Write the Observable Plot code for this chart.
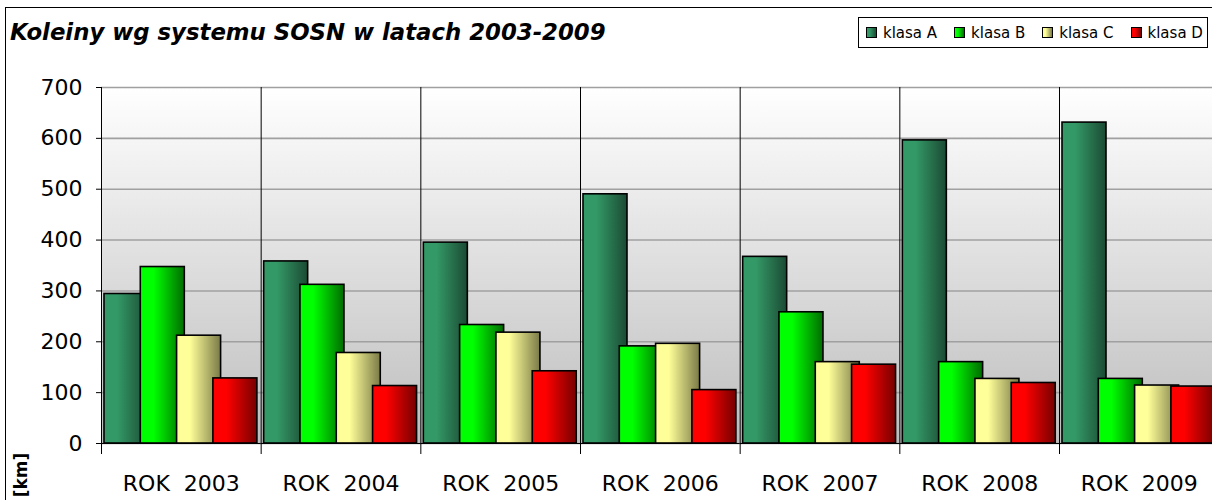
<!DOCTYPE html>
<html><head><meta charset="utf-8">
<script src="https://cdn.jsdelivr.net/npm/d3@7"></script>
<script src="https://cdn.jsdelivr.net/npm/@observablehq/plot@0.6"></script>
<style>
html,body{margin:0;padding:0;background:#fff;}
#wrap{position:relative;width:1212px;height:500px;overflow:hidden;font-family:"DejaVu Sans",sans-serif;color:#000;}
#border{position:absolute;left:5px;top:7px;width:1400px;height:700px;border:1px solid #000;box-sizing:border-box;}
#title{position:absolute;left:10px;top:19px;font-weight:bold;font-style:italic;font-size:22.8px;line-height:1.164;white-space:nowrap;}
#legend{position:absolute;left:858px;top:17px;width:350px;height:31px;border:1px solid #000;box-sizing:border-box;display:flex;align-items:center;padding-left:7px;font-size:15px;background:#fff;}
#legend .item{display:flex;align-items:center;margin-right:17px;white-space:nowrap;}
#legend .sw{width:9px;height:9px;border:1px solid #000;margin-right:6px;}
#chart{position:absolute;left:0;top:60px;width:1220px;}
#chart svg{max-width:none !important;}
#km{position:absolute;left:21px;top:475px;transform:translate(-50%,-50%) rotate(-90deg);font-weight:bold;font-size:17px;white-space:nowrap;}
</style>
</head><body>
<div id="wrap">
  <div id="border"></div>
  <div id="chart"></div>
  <div id="title"></div>
  <div id="legend"></div>
  <div id="km"></div>
</div>
<script>
const titleText = "Koleiny wg systemu SOSN w latach 2003-2009";
const unitLabel = "[km]";
const years = ["2003","2004","2005","2006","2007","2008","2009"];
const yearLabels = ["ROK\u00a0\u00a02003","ROK\u00a0\u00a02004","ROK\u00a0\u00a02005","ROK\u00a0\u00a02006","ROK\u00a0\u00a02007","ROK\u00a0\u00a02008","ROK\u00a0\u00a02009"];
const classes = ["klasa A","klasa B","klasa C","klasa D"];
const klasaA = [294, 358, 395, 490, 367, 596, 631];
const klasaB = [347, 312, 233, 191, 258, 160, 127];
const klasaC = [212, 178, 218, 196, 160, 127, 114];
const klasaD = [128, 113, 142, 105, 155, 119, 112];
const yTicks = [0, 100, 200, 300, 400, 500, 600, 700];
const colorsLight = ["#339966", "#00ff00", "#ffff99", "#ff0000"];
const colorsDark = ["#1b4a34", "#006c00", "#7a7a48", "#760000"];

const series = [klasaA, klasaB, klasaC, klasaD];
const table = [];
years.forEach((yr, i) => {
  classes.forEach((c, j) => {
    table.push({year: yr, cls: c, value: series[j][i], grad: `url(#grad${j})`});
  });
});

document.getElementById("title").textContent = titleText;
document.getElementById("km").textContent = unitLabel;
const legend = document.getElementById("legend");
classes.forEach((c, j) => {
  const it = document.createElement("div");
  it.className = "item";
  const sw = document.createElement("div");
  sw.className = "sw";
  sw.style.background = `linear-gradient(to right, ${colorsLight[j]} 30%, ${colorsDark[j]})`;
  const t = document.createElement("span");
  t.textContent = c;
  it.appendChild(sw); it.appendChild(t);
  legend.appendChild(it);
});

const chart = Plot.plot({
  width: 1220,
  height: 440,
  marginLeft: 101,
  marginRight: 1.33,
  marginTop: 27,
  marginBottom: 57,
  style: {fontFamily: "DejaVu Sans, sans-serif", fontSize: "22px", color: "#000", background: "transparent", overflow: "visible", maxWidth: "none"},
  fx: {domain: years, padding: 0, round: false, label: null, tickSize: 0, tickPadding: 32,
       tickFormat: d => yearLabels[years.indexOf(d)]},
  x: {domain: classes, paddingInner: 0, paddingOuter: 0.1993, align: 0.207, round: false, axis: null},
  y: {domain: [0, 700]},
  color: {type: "identity"},
  marks: [
    Plot.frame({fill: "url(#plotBg)"}),
    Plot.gridY(yTicks, {stroke: "#a0a0a0", strokeOpacity: 1, strokeWidth: 1.6}),
    Plot.frame({anchor: "left", stroke: "#000", strokeWidth: 1, insetBottom: -10}),
    Plot.barY(table, {fx: "year", x: "cls", y: "value", fill: "grad", stroke: "#000", strokeWidth: 1.6, insetRight: -7.7}),
    Plot.ruleY([0], {stroke: "#000", strokeWidth: 1}),
    Plot.axisY(yTicks, {tickSize: 5, tickPadding: 14, label: null, fontSize: 22})
  ]
});

const svg = d3.select(chart);
const defs = svg.insert("defs", ":first-child");
const bg = defs.append("linearGradient").attr("id", "plotBg").attr("x1", 0).attr("y1", 0).attr("x2", 0).attr("y2", 1);
bg.append("stop").attr("offset", "0%").attr("stop-color", "#ffffff");
bg.append("stop").attr("offset", "100%").attr("stop-color", "#bdbdbd");
colorsLight.forEach((c, j) => {
  const g = defs.append("linearGradient").attr("id", `grad${j}`).attr("x1", 0).attr("y1", 0).attr("x2", 1).attr("y2", 0);
  g.append("stop").attr("offset", "0%").attr("stop-color", c);
  g.append("stop").attr("offset", "30%").attr("stop-color", c);
  g.append("stop").attr("offset", "100%").attr("stop-color", colorsDark[j]);
});
document.getElementById("chart").appendChild(chart);
</script>
</body></html>
